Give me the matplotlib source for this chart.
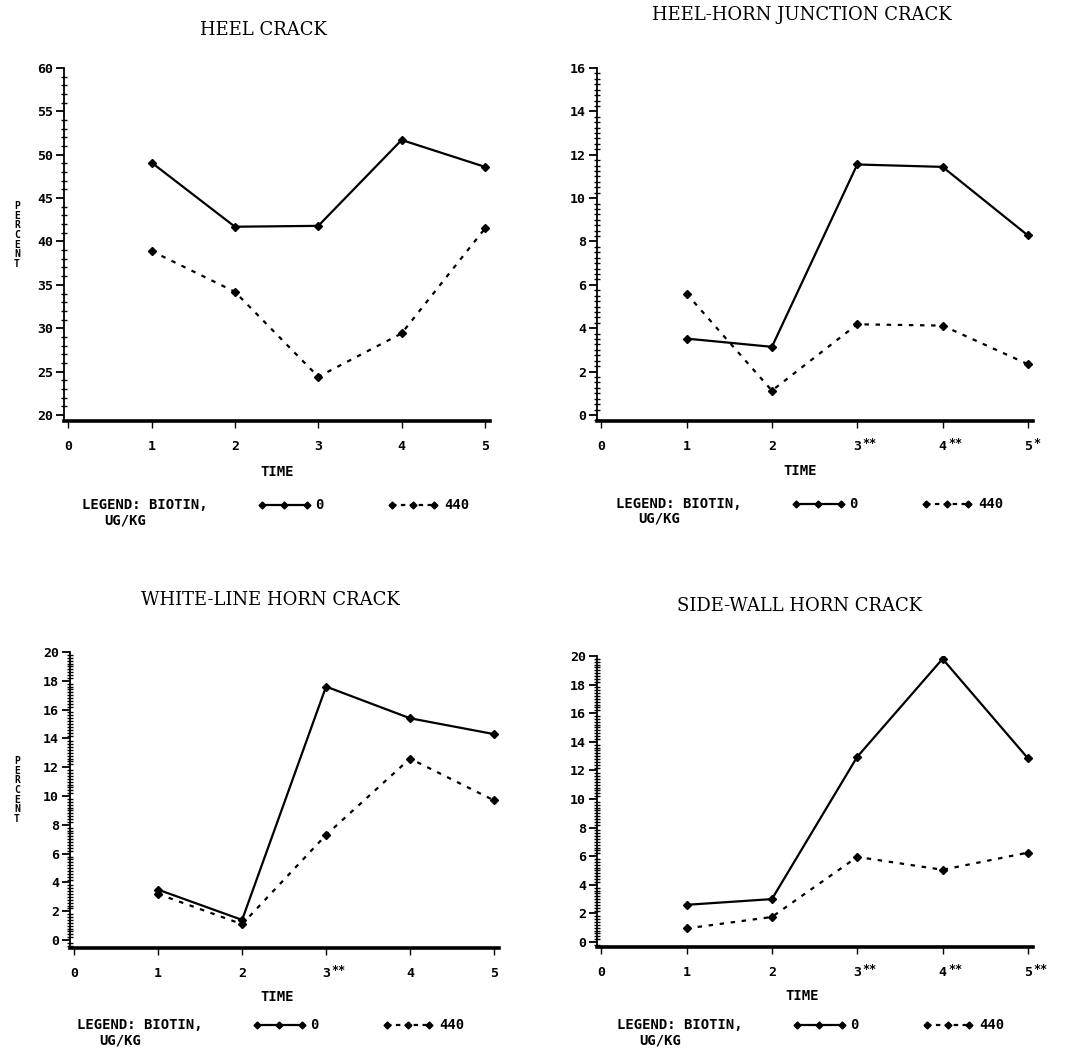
import matplotlib
matplotlib.use('Agg')
import matplotlib.pyplot as plt
from matplotlib.lines import Line2D
from matplotlib.ticker import MultipleLocator
import matplotlib.transforms as mtransforms

# Data
time = [1, 2, 3, 4, 5]

heel_0 = [49.1, 41.7, 41.8, 51.7, 48.6]
heel_440 = [38.9, 34.2, 24.4, 29.4, 41.5]

junction_0 = [3.52, 3.14, 11.55, 11.44, 8.28]
junction_440 = [5.59, 1.12, 4.18, 4.12, 2.34]

whiteline_0 = [3.5, 1.4, 17.6, 15.4, 14.3]
whiteline_440 = [3.2, 1.1, 7.3, 12.6, 9.7]

sidewall_0 = [2.6, 3.0, 12.95, 19.8, 12.85]
sidewall_440 = [0.95, 1.75, 5.95, 5.05, 6.25]

titles = ["HEEL CRACK", "HEEL-HORN JUNCTION CRACK",
          "WHITE-LINE HORN CRACK", "SIDE-WALL HORN CRACK"]
stars = [{}, {3: "**", 4: "**", 5: "*"}, {3: "**"}, {3: "**", 4: "**", 5: "**"}]
series = [(heel_0, heel_440), (junction_0, junction_440),
          (whiteline_0, whiteline_440), (sidewall_0, sidewall_440)]

W, H = 1071, 1056
fig = plt.figure(figsize=(W / 100, H / 100), dpi=100)

MONO = 'DejaVu Sans Mono'
SERIF = 'DejaVu Serif'


def fx(px):
    return px / W


def fy(py):
    return 1 - py / H


# panel boxes in pixels: left, right, top, bottom
boxes = [(64, 490, 68, 421), (597, 1033, 68, 421),
         (70, 499, 652, 948), (597, 1033, 656, 947)]
ylims = [(19.3, 60), (-0.28, 16), (-0.55, 20), (-0.35, 20)]
ymajor = [5, 2, 2, 2]
yminor = [1, 0.25, 0.2, 0.2]
title_pos = [(263, 30), (802, 15), (270, 600), (800, 606)]
time_pos = [(277, 472), (800, 471), (277, 997), (802, 996)]
legend_y = [505, 504, 1025, 1025]
legend_x = [82, 616, 77, 617]

for i, (l, r, t, b) in enumerate(boxes):
    ax = fig.add_axes([fx(l), fy(b), (r - l) / W, (b - t) / H])
    ctrl, trt = series[i]
    ax.plot(time, ctrl, color='black', lw=1.6, marker='D', ms=4)
    ax.plot(time, trt, color='black', lw=1.6, ls=(0, (2, 3)), marker='D', ms=4)

    ax.set_xlim(-0.05, 5.06)
    ax.set_ylim(*ylims[i])
    ax.set_xticks(range(6))
    ax.yaxis.set_major_locator(MultipleLocator(ymajor[i]))
    ax.yaxis.set_minor_locator(MultipleLocator(yminor[i]))
    ax.spines['top'].set_visible(False)
    ax.spines['right'].set_visible(False)
    ax.spines['left'].set_linewidth(1.3)
    ax.spines['bottom'].set_linewidth(2.6)
    ax.tick_params(axis='y', which='major', direction='out', length=6, width=1.3,
                   pad=2, labelsize=9.5)
    ax.tick_params(axis='y', which='minor', direction='inout', length=4, width=1.0)
    ax.tick_params(axis='x', which='major', direction='out', length=5, width=1.0,
                   pad=9, labelsize=9.5)
    for lab in ax.get_xticklabels() + ax.get_yticklabels():
        lab.set_fontfamily(MONO)
        lab.set_fontweight('bold')

    trans = mtransforms.blended_transform_factory(ax.transData, ax.transAxes)
    for xv, s in stars[i].items():
        ax.annotate(s, xy=(xv, 0), xycoords=trans, xytext=(4, -16),
                    textcoords='offset points', fontsize=8.5, fontweight='bold',
                    family=MONO, ha='left', va='center', annotation_clip=False)

    tx, ty = title_pos[i]
    fig.text(fx(tx), fy(ty), titles[i], family=SERIF, fontsize=13,
             ha='center', va='center')
    mx, my = time_pos[i]
    fig.text(fx(mx), fy(my), "TIME", family=MONO, fontsize=10,
             fontweight='bold', ha='center', va='center')

    # legend row
    ly = legend_y[i]
    lx = legend_x[i]
    fig.text(fx(lx), fy(ly), "LEGEND: BIOTIN,", family=MONO, fontsize=10,
             fontweight='bold', ha='left', va='center')
    fig.text(fx(lx + 22), fy(ly + 15), "UG/KG", family=MONO, fontsize=10,
             fontweight='bold', ha='left', va='center')
    sx = lx + 180
    fig.add_artist(Line2D([fx(sx), fx(sx + 22), fx(sx + 45)], [fy(ly)] * 3,
                          color='black', lw=1.6, marker='D', ms=3.5))
    fig.text(fx(sx + 53), fy(ly), "0", family=MONO, fontsize=10,
             fontweight='bold', ha='left', va='center')
    dx = sx + 130
    fig.add_artist(Line2D([fx(dx), fx(dx + 21), fx(dx + 42)], [fy(ly)] * 3,
                          color='black', lw=1.6, ls=(0, (2, 2)), marker='D', ms=3.5))
    fig.text(fx(dx + 52), fy(ly), "440", family=MONO, fontsize=10,
             fontweight='bold', ha='left', va='center')

# stacked y label on the left panels
for cy in (235, 790):
    fig.text(fx(17), fy(cy), "P\nE\nR\nC\nE\nN\nT", family=MONO, fontsize=7,
             fontweight='bold', ha='center', va='center', linespacing=0.95)

fig.savefig('out.png', dpi=100)
